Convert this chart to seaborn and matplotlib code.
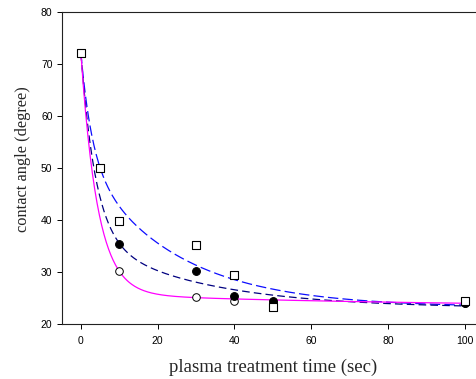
import numpy as np
import matplotlib
matplotlib.use("Agg")
import matplotlib.pyplot as plt
import seaborn as sns

# -----------------------------
# DATA
# -----------------------------
time_square = [0, 5, 10, 30, 40, 50, 100]
angle_square = [72.0, 49.9, 39.8, 35.1, 29.5, 23.2, 24.4]

time_filled = [0, 10, 30, 40, 50, 100]
angle_filled = [72.0, 35.4, 30.1, 25.3, 24.4, 24.0]

time_open = [0, 10, 30, 40, 50, 100]
angle_open = [72.0, 30.2, 25.2, 24.5, 24.3, 24.0]

# fitted decay curves: y0 + a*exp(-b*t) + c*exp(-d*t)
fit_square = [23.2, 20.3, 0.34, 28.5, 0.042]
fit_filled = [23.0, 35.1, 0.26, 13.9, 0.034]
fit_open = [23.2, 46.2, 0.23, 2.6, 0.012]

x_ticks = [0, 20, 40, 60, 80, 100]
y_ticks = [20, 30, 40, 50, 60, 70, 80]


def decay(t, p):
    y0, a, b, c, d = p
    return y0 + a * np.exp(-b * t) + c * np.exp(-d * t)


# -----------------------------
# STYLE
# -----------------------------
sns.set_style("ticks")
plt.rcParams["font.family"] = ["Liberation Sans", "DejaVu Sans"]
plt.rcParams["lines.scale_dashes"] = False

fig = plt.figure(figsize=(4.76, 3.79), dpi=100)
# right spine sits just outside the canvas, like the original crop
ax = fig.add_axes([61.7 / 476, 55 / 379, 422.3 / 476, 312.5 / 379])

t_fit = np.linspace(0, 100, 500)

sns.lineplot(x=t_fit, y=decay(t_fit, fit_square), ax=ax, color="#0d0dff",
             linewidth=0.9, linestyle=(0, (7.5, 3)), estimator=None, sort=False)
sns.lineplot(x=t_fit, y=decay(t_fit, fit_filled), ax=ax, color="#000080",
             linewidth=0.9, linestyle=(0, (5.5, 3)), estimator=None, sort=False)
sns.lineplot(x=t_fit, y=decay(t_fit, fit_open), ax=ax, color="#ff00ff",
             linewidth=0.9, estimator=None, sort=False)

sns.scatterplot(x=time_open, y=angle_open, ax=ax, marker="o", s=30,
                facecolor="white", edgecolor="black", linewidth=0.7, zorder=3)
sns.scatterplot(x=time_filled, y=angle_filled, ax=ax, marker="o", s=32,
                color="black", edgecolor="black", linewidth=0.7, zorder=4)
sns.scatterplot(x=time_square, y=angle_square, ax=ax, marker="s", s=27,
                facecolor="white", edgecolor="black", linewidth=0.8, zorder=5)

ax.set_xlim(-5, 105)
ax.set_ylim(20, 80)
ax.set_xticks(x_ticks)
ax.set_yticks(y_ticks)
ax.tick_params(axis="both", direction="out", length=3.6, width=0.7,
               labelsize=7.5, colors="black")
ax.tick_params(axis="x", pad=5.0)
ax.tick_params(axis="y", pad=3.0)
for side in ax.spines.values():
    side.set_linewidth(0.8)
    side.set_color("#222222")

ax.set_xlabel("plasma treatment time (sec)", family=["Liberation Serif", "DejaVu Serif"],
              fontsize=13.5)
ax.set_ylabel("contact angle (degree)", family=["Liberation Serif", "DejaVu Serif"],
              fontsize=11.8)
ax.xaxis.set_label_coords(0.5, -0.112)
ax.yaxis.set_label_coords(-0.072, 0.528)

fig.savefig("out.png", dpi=100, facecolor="white")
